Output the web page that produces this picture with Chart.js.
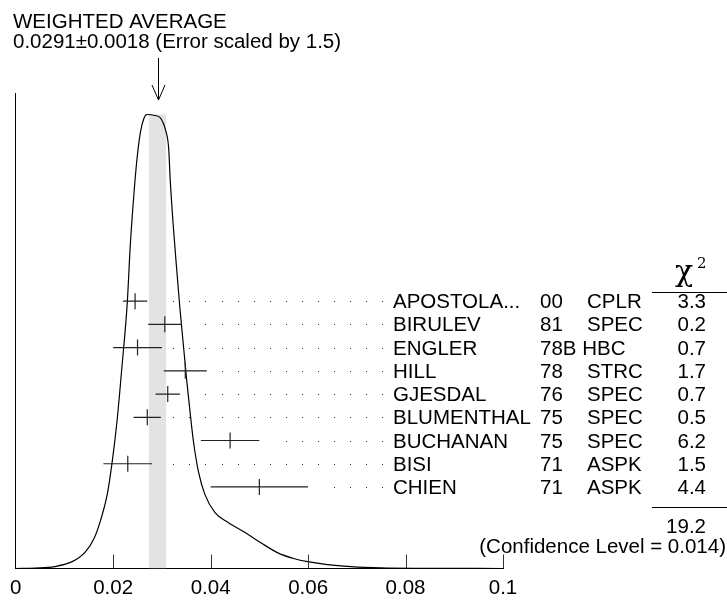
<!DOCTYPE html>
<html>
<head>
<meta charset="utf-8">
<script src="https://cdn.jsdelivr.net/npm/chart.js@4.4.1/dist/chart.umd.min.js"></script>
<style>
    html, body { margin: 0; padding: 0; background: #ffffff; }
    #wrap { width: 727px; height: 609px; }
</style>
</head>
<body>
<div id="wrap"><canvas id="ideogram" width="727" height="609"></canvas></div>
<script>
const names  = ['APOSTOLA...', 'BIRULEV', 'ENGLER', 'HILL', 'GJESDAL', 'BLUMENTHAL', 'BUCHANAN', 'BISI', 'CHIEN'];
const years  = ['00', '81', '78B', '78', '76', '75', '75', '71', '71'];
const techs  = ['CPLR', 'SPEC', 'HBC', 'STRC', 'SPEC', 'SPEC', 'SPEC', 'ASPK', 'ASPK'];
const values = [0.0245, 0.0306, 0.0250, 0.0348, 0.0312, 0.0270, 0.0440, 0.0230, 0.0500];
const errors = [0.0025, 0.0034, 0.0050, 0.0044, 0.0025, 0.0028, 0.0060, 0.0050, 0.0100];
const chi2   = ['3.3', '0.2', '0.7', '1.7', '0.7', '0.5', '6.2', '1.5', '4.4'];
const chi2Total = '19.2';
const confLevel = '0.014';

// Média ponderada
const avgValue = 0.0291;
const avgError = 0.0018;
const errScale = '1.5';

// Ideograma (curva)
const curveX = [0, 0.004, 0.008, 0.0116, 0.0143, 0.0161, 0.0174, 0.0188, 0.0198, 0.0208, 0.0218, 0.0229,
    0.0235, 0.0242, 0.0249, 0.0256, 0.0263, 0.0269, 0.0286, 0.0296, 0.0303, 0.0307, 0.0314, 0.0317,
    0.0324, 0.0331, 0.0337, 0.0344, 0.0351, 0.0358, 0.0365, 0.0375, 0.0388, 0.0409, 0.0436, 0.0470,
    0.0504, 0.0538, 0.0572, 0.0599, 0.0640, 0.0688, 0.0749, 0.0831, 0.1];
const curveY = [0, 0.5, 2, 7, 17, 31, 49, 76, 109, 151, 206, 272,
    329, 379, 419, 446, 460, 464, 463, 461, 455, 449, 429, 398,
    346, 302, 266, 229, 192, 159, 129, 99, 76, 57, 47, 37,
    26, 16, 10, 7, 4, 2, 0.7, 0.2, 0];

const xTicks = [0, 0.02, 0.04, 0.06, 0.08, 0.1];
const xTickLabels = ['0', '0.02', '0.04', '0.06', '0.08', '0.1'];

const FONT = '"Liberation Sans", Arial, Helvetica, sans-serif';
const SERIF = '"DejaVu Serif", "Liberation Serif", serif';
const TXT = '20.5px ' + FONT;

const peak = Math.max(...curveY);

// Pontos das barras de erro (null separa os segmentos)
const barPoints = values.flatMap((v, i) => [
    { x: v - errors[i], y: i },
    { x: v + errors[i], y: i },
    { x: v, y: null }
]);
const centerPoints = values.map((v, i) => ({ x: v, y: i }));

// Textos, seta, pontilhado e marcas do eixo
const decorPlugin = {
    id: 'decor',
    afterDatasetsDraw(chart) {
        const { ctx, scales } = chart;
        const xs = scales.x, yr = scales.yr;
        ctx.save();

        // pontilhado até os nomes
        ctx.fillStyle = '#333';
        const dotStart = 0.03235, dotStep = 0.003296;
        values.forEach((v, i) => {
            const py = Math.round(yr.getPixelForValue(i));
            const barEnd = xs.getPixelForValue(v + errors[i]);
            for (let k = 0; k < 14; k++) {
                const px = xs.getPixelForValue(dotStart + k * dotStep);
                if (px > barEnd + 11) ctx.fillRect(Math.round(px), py, 1, 1);
            }
        });

        // marcas do eixo x (para dentro)
        ctx.strokeStyle = '#333';
        ctx.lineWidth = 1;
        const bottom = chart.chartArea.bottom;
        xTicks.forEach(t => {
            if (t === 0) return;
            const px = Math.round(xs.getPixelForValue(t)) + 0.5;
            ctx.beginPath();
            ctx.moveTo(px, bottom);
            ctx.lineTo(px, bottom - 14);
            ctx.stroke();
        });

        // seta da média
        const ax = Math.round(xs.getPixelForValue(avgValue)) + 0.5;
        ctx.strokeStyle = '#000';
        ctx.beginPath();
        ctx.moveTo(ax, 58);
        ctx.lineTo(ax, 100);
        ctx.moveTo(ax - 6.5, 85);
        ctx.lineTo(ax, 100);
        ctx.lineTo(ax + 6.5, 85);
        ctx.stroke();

        // título
        ctx.fillStyle = '#000';
        ctx.textAlign = 'left';
        ctx.textBaseline = 'alphabetic';
        ctx.font = TXT;
        ctx.fillText('WEIGHTED AVERAGE', 13, 28);
        ctx.fillText(avgValue.toFixed(4) + '\u00b1' + avgError.toFixed(4) + ' (Error scaled by ' + errScale + ')', 13, 48);

        // tabela à direita
        const nameX = 393, yearX = 540, techX = 587, chiRight = 706;
        const spaceW = ctx.measureText(' ').width;
        names.forEach((n, i) => {
            const by = yr.getPixelForValue(i) + 7;
            ctx.textAlign = 'left';
            ctx.fillText(n, nameX, by);
            ctx.fillText(years[i], yearX, by);
            const tx = years[i].length > 2 ? yearX + ctx.measureText(years[i]).width + spaceW : techX;
            ctx.fillText(techs[i], tx, by);
            ctx.textAlign = 'right';
            ctx.fillText(chi2[i], chiRight, by);
        });

        // cabeçalho chi2
        ctx.textAlign = 'center';
        ctx.font = '30px ' + SERIF;
        ctx.fillText('\u03c7', 684, 281);
        ctx.textAlign = 'left';
        ctx.font = '15px ' + SERIF;
        ctx.fillText('2', 697, 268);

        ctx.beginPath();
        ctx.moveTo(652, 292.5);
        ctx.lineTo(727, 292.5);
        ctx.moveTo(652, 507.5);
        ctx.lineTo(727, 507.5);
        ctx.stroke();

        ctx.font = TXT;
        ctx.textAlign = 'right';
        ctx.fillText(chi2Total, chiRight, 533);
        ctx.fillText('(Confidence Level = ' + confLevel + ')', 726, 553);

        ctx.restore();
    }
};

function createIdeogram() {
    const ctx = document.getElementById('ideogram');
    if (!ctx) return;

    new Chart(ctx, {
        type: 'line',
        data: {
            datasets: [{
                // faixa cinza da média
                data: [{ x: avgValue - avgError, y: peak }, { x: avgValue + avgError, y: peak }],
                yAxisID: 'y',
                borderWidth: 0,
                pointRadius: 0,
                fill: 'origin',
                backgroundColor: '#e3e3e3',
                order: 10
            }, {
                // ideograma
                data: curveX.map((x, i) => ({ x: x, y: curveY[i] })),
                yAxisID: 'y',
                borderColor: '#000',
                borderWidth: 1.2,
                pointRadius: 0,
                fill: false,
                cubicInterpolationMode: 'monotone',
                order: 5
            }, {
                // barras de erro
                data: barPoints,
                yAxisID: 'yr',
                borderColor: '#222',
                borderWidth: 1.2,
                pointRadius: 0,
                spanGaps: false,
                fill: false,
                order: 2
            }, {
                // valores centrais
                data: centerPoints,
                yAxisID: 'yr',
                showLine: false,
                pointStyle: 'line',
                rotation: 90,
                pointRadius: 8,
                pointBorderWidth: 1.2,
                pointBorderColor: '#222',
                order: 1
            }]
        },
        options: {
            responsive: false,
            animation: false,
            devicePixelRatio: 1,
            layout: { padding: { left: 13, right: 224, top: 93, bottom: 0 } },
            plugins: {
                legend: { display: false },
                tooltip: { enabled: false }
            },
            scales: {
                x: {
                    type: 'linear',
                    min: 0,
                    max: 0.1,
                    afterBuildTicks: scale => { scale.ticks = xTicks.map(v => ({ value: v })); },
                    grid: { display: false, drawTicks: false },
                    border: { display: true, color: '#000', width: 1 },
                    ticks: {
                        color: '#000',
                        padding: 10,
                        maxRotation: 0,
                        font: { family: FONT, size: 20.5, lineHeight: 1.0 },
                        callback: (value, index) => xTickLabels[index]
                    }
                },
                y: {
                    min: 0,
                    max: 486,
                    grid: { display: false, drawTicks: false },
                    border: { display: true, color: '#000', width: 1 },
                    ticks: { display: false }
                },
                yr: {
                    display: false,
                    reverse: true,
                    min: -8.96,
                    max: 11.51
                }
            }
        },
        plugins: [decorPlugin]
    });
}

createIdeogram();
</script>
</body>
</html>
